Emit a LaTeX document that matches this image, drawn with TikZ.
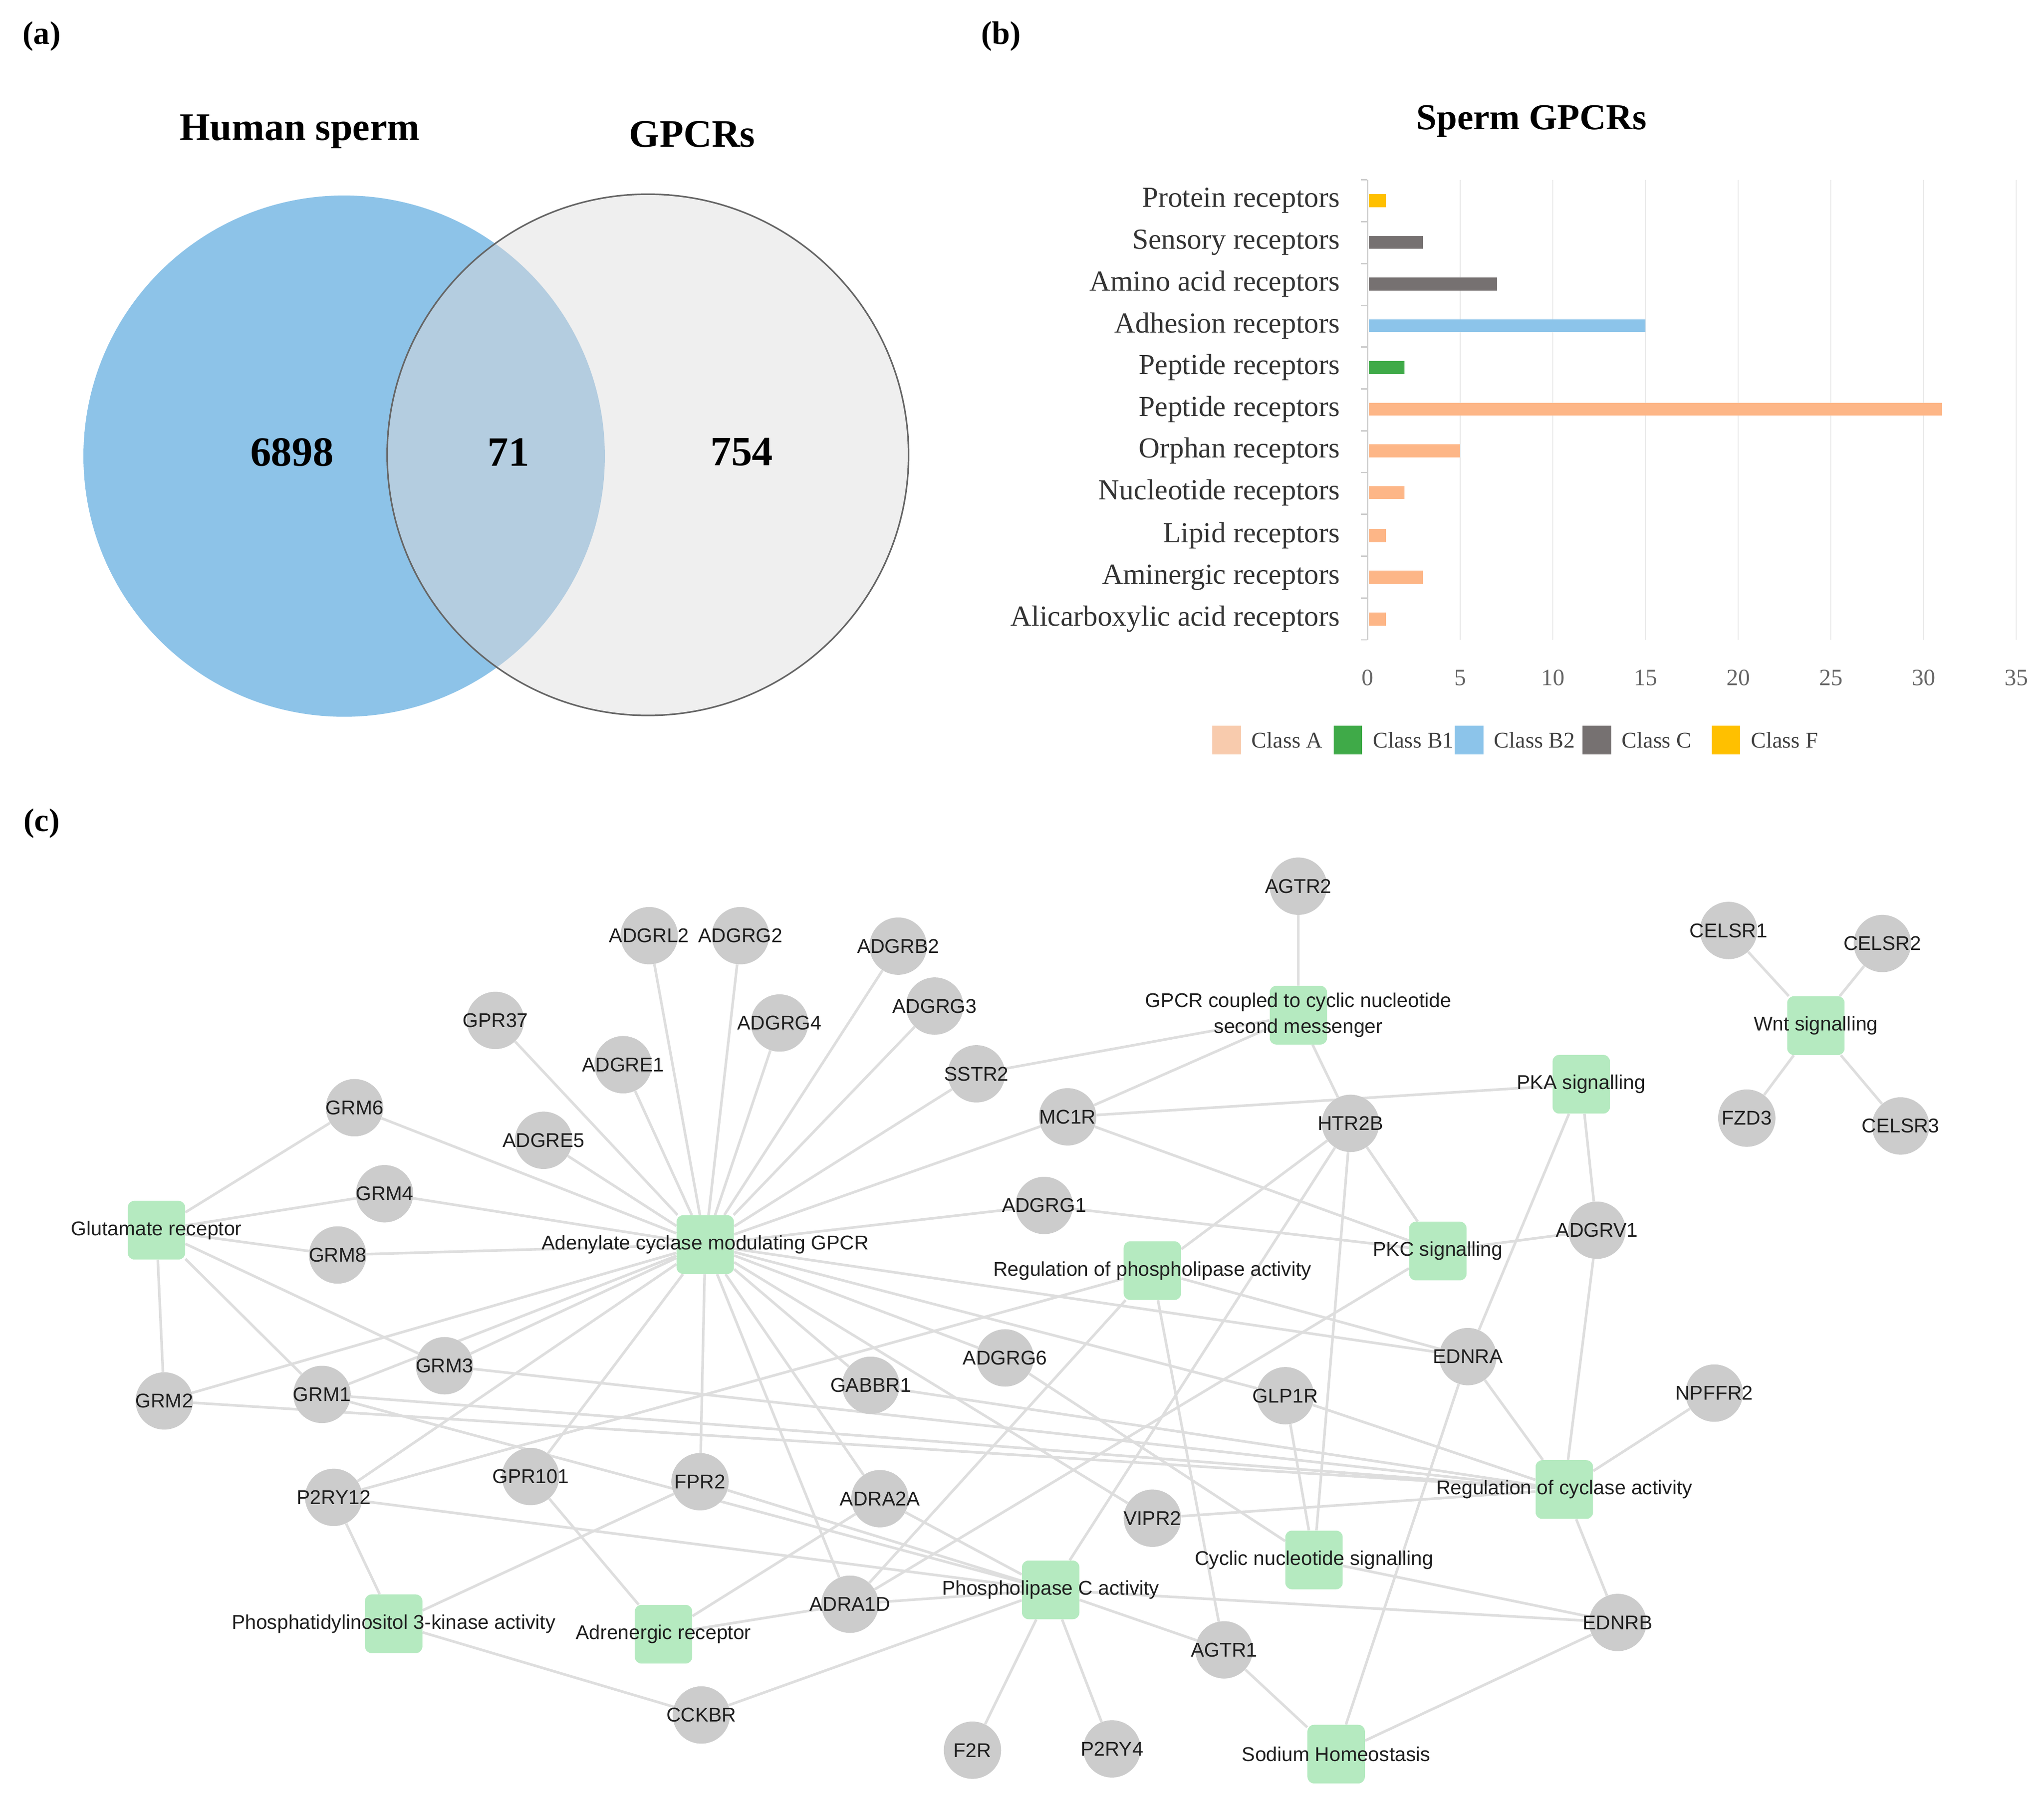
\documentclass[tikz,border=0pt]{standalone}
\usepackage{fontspec}
\setmainfont{Liberation Serif}
\setsansfont{Liberation Sans}
\usetikzlibrary{backgrounds}
\pgfdeclarelayer{paper}
\pgfsetlayers{paper,background,main}

\definecolor{spermblue}{HTML}{8DC3E8}
\definecolor{gpcrgray}{HTML}{EFEFEF}
\definecolor{overlapblue}{HTML}{B4CDE0}
\definecolor{classA}{HTML}{FDB687}
\definecolor{classAkey}{HTML}{F8CBAD}
\definecolor{classBone}{HTML}{3FAA48}
\definecolor{classBtwo}{HTML}{8CC4EA}
\definecolor{classC}{HTML}{767171}
\definecolor{classF}{HTML}{FFC000}
\definecolor{genegray}{HTML}{CCCCCC}
\definecolor{termgreen}{HTML}{B5EAC0}

\tikzset{
  panel/.style={font=\bfseries\fontsize{25}{30}\selectfont},
  venntitle/.style={font=\bfseries\fontsize{30}{36}\selectfont},
  venncount/.style={font=\bfseries\fontsize{32}{38}\selectfont},
  charttitle/.style={font=\bfseries\fontsize{28}{34}\selectfont},
  catlabel/.style={anchor=east, text=black!80, font=\fontsize{22.3}{26}\selectfont, inner sep=0pt},
  ticklabel/.style={text=black!60, font=\fontsize{18}{22}\selectfont},
  keylabel/.style={anchor=west, text=black!75, font=\fontsize{17.3}{20}\selectfont, inner sep=0pt},
  gridline/.style={draw=black!8, line width=1pt},
  axisline/.style={draw=black!20, line width=1pt},
  nodetext/.style={font=\sffamily\fontsize{15.3}{20}\selectfont, text=black!88, align=center},
  gene/.style={circle, fill=genegray, minimum size=44pt, inner sep=0pt, label={[nodetext]center:#1}},
  term/.style={rectangle, rounded corners=5pt, fill=termgreen, minimum width=44pt, minimum height=45pt, inner sep=0pt, label={[nodetext]center:#1}},
  link/.style={draw=black!13, line width=2pt},
}

\begin{document}
\begin{tikzpicture}[x=1pt, y=-1pt]
  \begin{pgfonlayer}{paper}
    \fill[white] (0,0) rectangle (1568,1382);
  \end{pgfonlayer}
  \useasboundingbox (0,0) rectangle (1568,1382);

  % (a) Venn diagram
  \node[panel] (pa) at (32,28) {(a)};
  \node[venntitle] (tsperm) at (230,101) {Human sperm};
  \node[venntitle] (tgpcr) at (531,103) {GPCRs};
  \fill[spermblue] (264,350) circle (200pt);
  \fill[gpcrgray] (497,349) circle (200pt);
  \begin{scope}
    \clip (264,350) circle (200pt);
    \fill[overlapblue] (497,349) circle (200pt);
  \end{scope}
  \draw[black!60, line width=1.2pt] (497,349) circle (200pt);
  \node[venncount] (nsperm) at (224,347) {6898};
  \node[venncount] (nboth) at (390,347) {71};
  \node[venncount] (ngpcr) at (569,347) {754};

  % (b) bar chart
  \node[panel] (pb) at (768,28) {(b)};
  \node[charttitle] (tchart) at (1175,93) {Sperm GPCRs};
  \foreach \v in {5,10,...,35}
    \draw[gridline] ({1049+14.22*\v},138) -- ({1049+14.22*\v},491);
  \draw[axisline] (1049,138) -- (1049,491);
  \foreach \k in {0,...,11}
    \draw[axisline] (1044,{138+32.09*\k}) -- (1049,{138+32.09*\k});
  \foreach \v in {0,5,...,35}
    \node[ticklabel] at ({1049+14.22*\v},520) {\v};
  \foreach \y/\v/\c/\t in {154/1/classF/Protein receptors,
      186/3/classC/Sensory receptors,
      218/7/classC/Amino acid receptors,
      250/15/classBtwo/Adhesion receptors,
      282/2/classBone/Peptide receptors,
      314/31/classA/Peptide receptors,
      346/5/classA/Orphan receptors,
      378/2/classA/Nucleotide receptors,
      411/1/classA/Lipid receptors,
      443/3/classA/Aminergic receptors,
      475/1/classA/Alicarboxylic acid receptors}
  {
    \fill[\c] (1050,{\y-5}) rectangle ({1049+14.22*\v},{\y+5});
    \node[catlabel] at (1028,\y) {\t};
  }
  % legend
  \foreach \x/\c/\t in {930/classAkey/Class A, 1023/classBone/Class B1,
      1116/classBtwo/Class B2, 1214/classC/Class C, 1313/classF/Class F}
  {
    \fill[\c] (\x,557) rectangle ({\x+22},579);
    \node[keylabel] at ({\x+30},568) {\t};
  }

  % (c) network
  \node[panel] (pc) at (32,632) {(c)};

  % genes
  \node[gene=ADGRL2] (adgrl2) at (498,718) {};
  \node[gene=ADGRG2] (adgrg2) at (568,718) {};
  \node[gene=ADGRB2] (adgrb2) at (689,726) {};
  \node[gene=GPR37] (gpr37) at (380,783) {};
  \node[gene=ADGRG4] (adgrg4) at (598,785) {};
  \node[gene=ADGRG3] (adgrg3) at (717,772) {};
  \node[gene=ADGRE1] (adgre1) at (478,817) {};
  \node[gene=SSTR2] (sstr2) at (749,824) {};
  \node[gene=AGTR2] (agtr2) at (996,680) {};
  \node[gene=GRM6] (grm6) at (272,850) {};
  \node[gene=ADGRE5] (adgre5) at (417,875) {};
  \node[gene=MC1R] (mc1r) at (819,857) {};
  \node[gene=HTR2B] (htr2b) at (1036,862) {};
  \node[gene=CELSR1] (celsr1) at (1326,714) {};
  \node[gene=CELSR2] (celsr2) at (1444,724) {};
  \node[gene=FZD3] (fzd3) at (1340,858) {};
  \node[gene=CELSR3] (celsr3) at (1458,864) {};
  \node[gene=GRM4] (grm4) at (295,916) {};
  \node[gene=GRM8] (grm8) at (259,963) {};
  \node[gene=ADGRG1] (adgrg1) at (801,925) {};
  \node[gene=ADGRV1] (adgrv1) at (1225,944) {};
  \node[gene=GRM3] (grm3) at (341,1048) {};
  \node[gene=GRM2] (grm2) at (126,1075) {};
  \node[gene=GRM1] (grm1) at (247,1070) {};
  \node[gene=GABBR1] (gabbr1) at (668,1063) {};
  \node[gene=ADGRG6] (adgrg6) at (771,1042) {};
  \node[gene=GLP1R] (glp1r) at (986,1071) {};
  \node[gene=EDNRA] (ednra) at (1126,1041) {};
  \node[gene=NPFFR2] (npffr2) at (1315,1069) {};
  \node[gene=P2RY12] (p2ry12) at (256,1149) {};
  \node[gene=GPR101] (gpr101) at (407,1133) {};
  \node[gene=FPR2] (fpr2) at (537,1137) {};
  \node[gene=ADRA2A] (adra2a) at (675,1150) {};
  \node[gene=VIPR2] (vipr2) at (884,1165) {};
  \node[gene=ADRA1D] (adra1d) at (652,1231) {};
  \node[gene=AGTR1] (agtr1) at (939,1266) {};
  \node[gene=EDNRB] (ednrb) at (1241,1245) {};
  \node[gene=CCKBR] (cckbr) at (538,1316) {};
  \node[gene=F2R] (f2r) at (746,1343) {};
  \node[gene=P2RY4] (p2ry4) at (853,1342) {};

  % terms
  \node[term=Glutamate receptor] (glu) at (120,944) {};
  \node[term=Adenylate cyclase modulating GPCR] (adcy) at (541,955) {};
  \node[term={GPCR coupled to cyclic nucleotide\\second messenger}] (gpcrmsg) at (996,779) {};
  \node[term=PKA signalling] (pka) at (1213,832) {};
  \node[term=Wnt signalling] (wnt) at (1393,787) {};
  \node[term=Regulation of phospholipase activity] (regpl) at (884,975) {};
  \node[term=PKC signalling] (pkc) at (1103,960) {};
  \node[term=Regulation of cyclase activity] (regcyc) at (1200,1143) {};
  \node[term=Cyclic nucleotide signalling] (cns) at (1008,1197) {};
  \node[term=Phospholipase C activity] (plc) at (806,1220) {};
  \node[term=Phosphatidylinositol 3-kinase activity] (pik) at (302,1246) {};
  \node[term=Adrenergic receptor] (adr) at (509,1254) {};
  \node[term=Sodium Homeostasis] (sodium) at (1025,1346) {};

  % links, behind the nodes
  \begin{scope}[on background layer]
    \foreach \g in {grm6,grm4,grm8,grm2,grm1,grm3}
      \draw[link] (glu) -- (\g);
    \foreach \g in {adgrl2,adgrg2,adgrb2,gpr37,adgrg4,adgrg3,adgre1,sstr2,
        grm6,adgre5,mc1r,grm4,grm8,adgrg1,grm3,grm2,grm1,gabbr1,adgrg6,
        p2ry12,gpr101,fpr2,adra2a,adra1d,vipr2,ednra,glp1r}
      \draw[link] (adcy) -- (\g);
    \foreach \g in {agtr2,sstr2,mc1r,htr2b}
      \draw[link] (gpcrmsg) -- (\g);
    \foreach \g in {mc1r,ednra,adgrv1}
      \draw[link] (pka) -- (\g);
    \foreach \g in {celsr1,celsr2,fzd3,celsr3}
      \draw[link] (wnt) -- (\g);
    \foreach \g in {p2ry12,adra1d,htr2b,ednra,agtr1}
      \draw[link] (regpl) -- (\g);
    \foreach \g in {htr2b,mc1r,adgrg1,adgrv1,adra1d}
      \draw[link] (pkc) -- (\g);
    \foreach \g in {grm2,grm3,grm1,gabbr1,glp1r,ednra,adgrv1,npffr2,vipr2,ednrb}
      \draw[link] (regcyc) -- (\g);
    \foreach \g in {htr2b,glp1r,adgrg6,ednrb}
      \draw[link] (cns) -- (\g);
    \foreach \g in {grm1,fpr2,p2ry12,adra2a,adra1d,cckbr,f2r,p2ry4,agtr1,htr2b,ednrb}
      \draw[link] (plc) -- (\g);
    \foreach \g in {p2ry12,fpr2,cckbr}
      \draw[link] (pik) -- (\g);
    \foreach \g in {gpr101,adra2a,adra1d}
      \draw[link] (adr) -- (\g);
    \foreach \g in {agtr1,ednra,ednrb}
      \draw[link] (sodium) -- (\g);
  \end{scope}
\end{tikzpicture}
\end{document}
